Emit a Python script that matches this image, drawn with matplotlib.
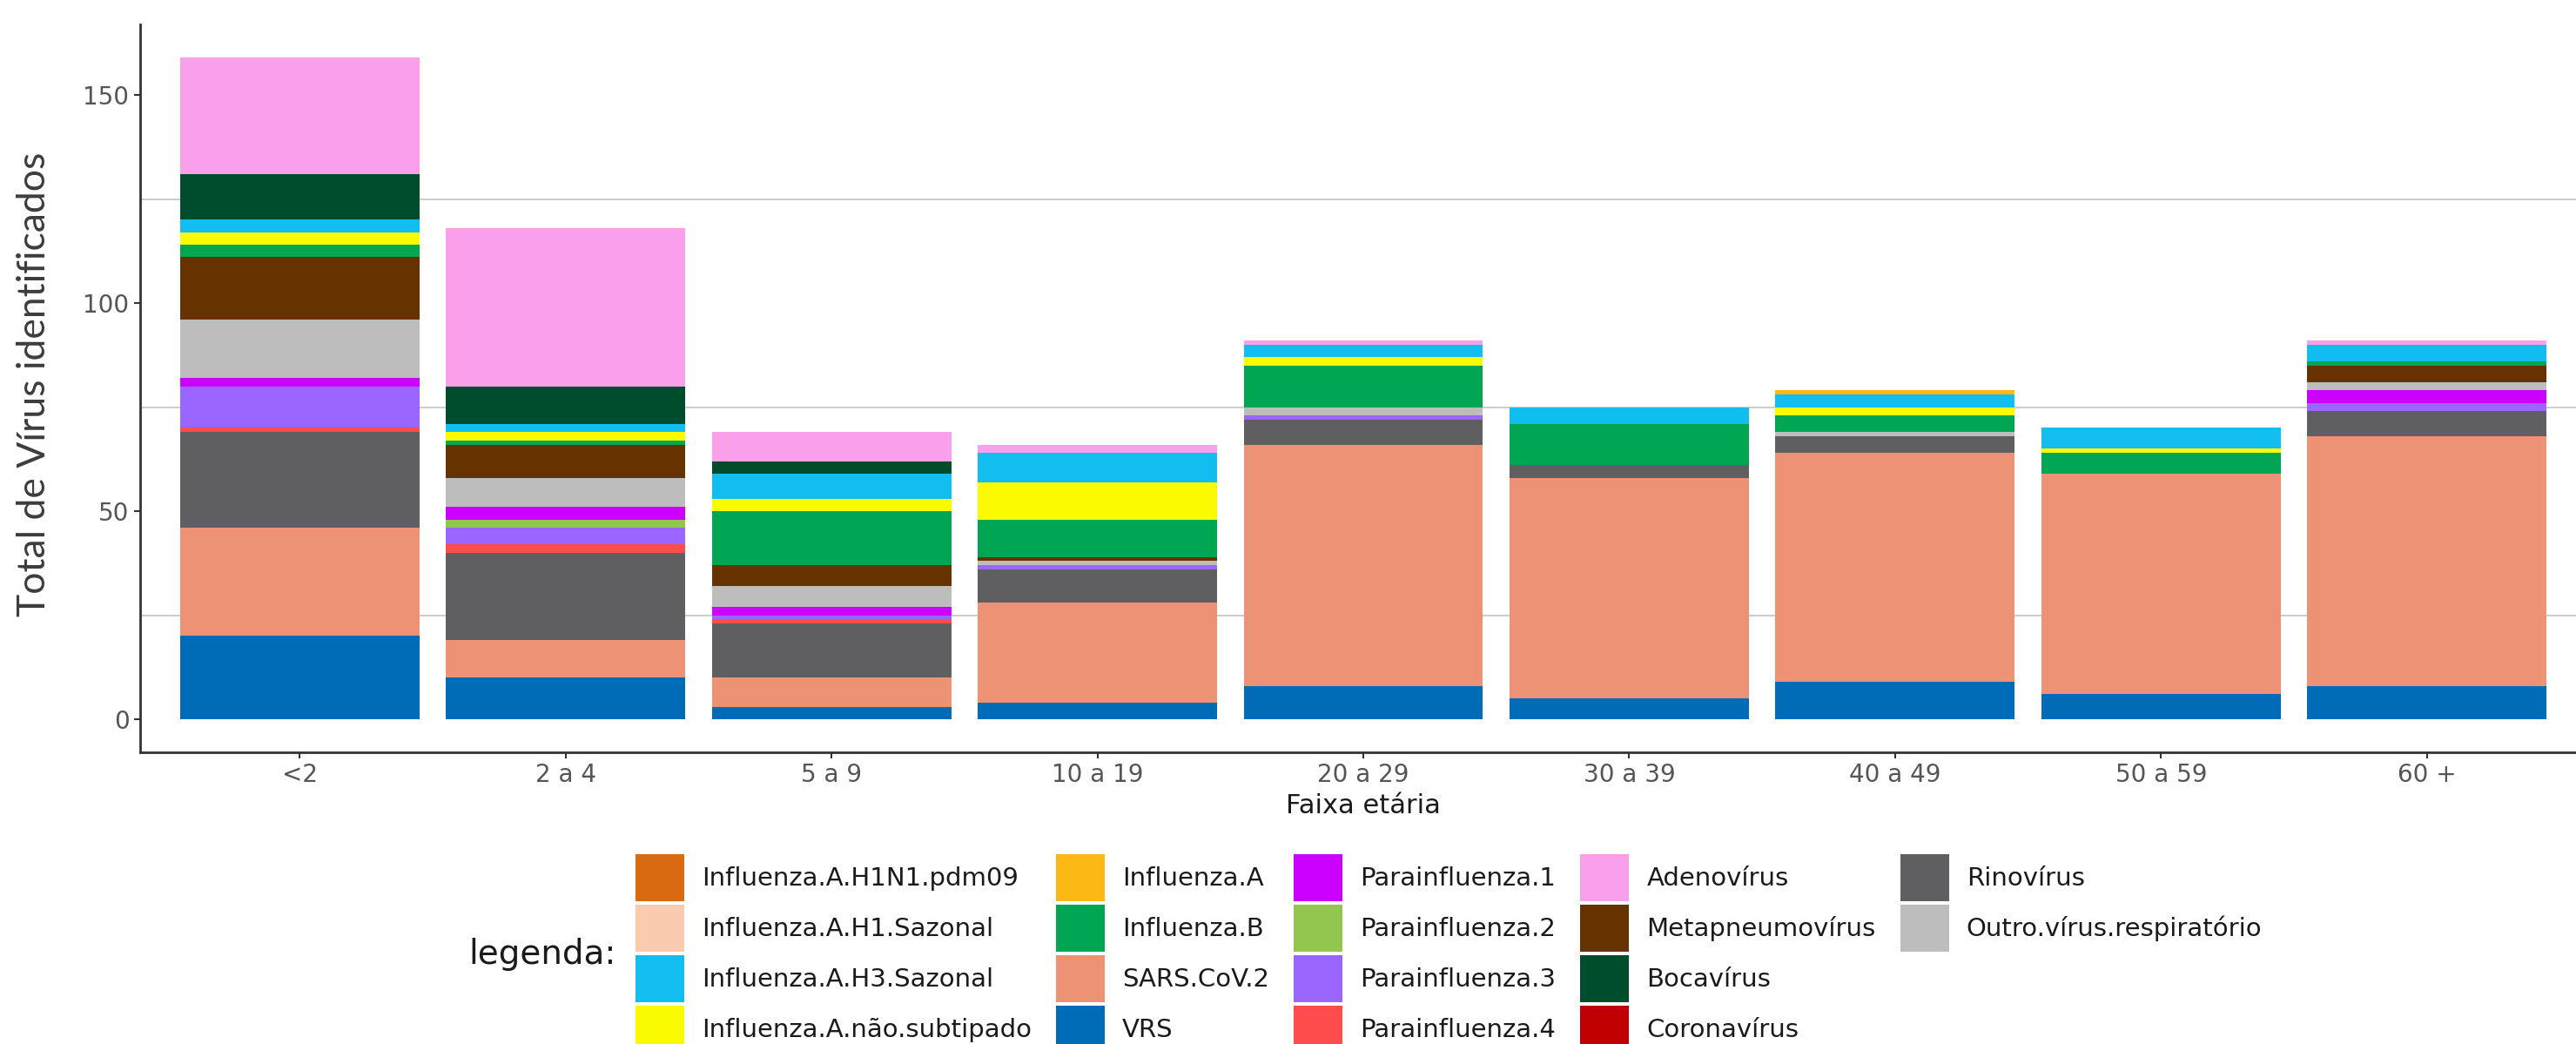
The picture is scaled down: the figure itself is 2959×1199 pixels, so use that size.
import matplotlib.pyplot as plt
import numpy as np
from matplotlib.patches import Patch

# faixas etarias (eixo x)
categorias = ["<2", "2 a 4", "5 a 9", "10 a 19", "20 a 29", "30 a 39", "40 a 49", "50 a 59", "60 +"]

# total de virus identificados por faixa etaria
vrs = [20, 10, 3, 4, 8, 5, 9, 6, 8]
sars_cov2 = [26, 9, 7, 24, 58, 53, 55, 53, 60]
rinovirus = [23, 21, 13, 8, 6, 3, 4, 0, 6]
parainfluenza4 = [1, 2, 1, 0, 0, 0, 0, 0, 0]
parainfluenza3 = [10, 4, 1, 1, 1, 0, 0, 0, 2]
parainfluenza2 = [0, 2, 0, 0, 0, 0, 0, 0, 0]
parainfluenza1 = [2, 3, 2, 0, 0, 0, 0, 0, 3]
outro_virus = [14, 7, 5, 1, 2, 0, 1, 0, 2]
metapneumovirus = [15, 8, 5, 1, 0, 0, 0, 0, 4]
influenza_b = [3, 1, 13, 9, 10, 10, 4, 5, 1]
influenza_a_nao_sub = [3, 2, 3, 9, 2, 0, 2, 1, 0]
influenza_a_h3 = [3, 2, 6, 7, 3, 4, 3, 5, 4]
influenza_a = [0, 0, 0, 0, 0, 0, 1, 0, 0]
bocavirus = [11, 9, 3, 0, 0, 0, 0, 0, 0]
adenovirus = [28, 38, 7, 2, 1, 0, 0, 0, 1]
influenza_h1n1 = [0, 0, 0, 0, 0, 0, 0, 0, 0]
influenza_h1 = [0, 0, 0, 0, 0, 0, 0, 0, 0]
coronavirus = [0, 0, 0, 0, 0, 0, 0, 0, 0]

dados = {
    "Influenza.A.H1N1.pdm09": influenza_h1n1,
    "Influenza.A.H1.Sazonal": influenza_h1,
    "Influenza.A.H3.Sazonal": influenza_a_h3,
    "Influenza.A.não.subtipado": influenza_a_nao_sub,
    "Influenza.A": influenza_a,
    "Influenza.B": influenza_b,
    "SARS.CoV.2": sars_cov2,
    "VRS": vrs,
    "Parainfluenza.1": parainfluenza1,
    "Parainfluenza.2": parainfluenza2,
    "Parainfluenza.3": parainfluenza3,
    "Parainfluenza.4": parainfluenza4,
    "Adenovírus": adenovirus,
    "Metapneumovírus": metapneumovirus,
    "Bocavírus": bocavirus,
    "Coronavírus": coronavirus,
    "Rinovírus": rinovirus,
    "Outro.vírus.respiratório": outro_virus,
}

cores = {
    "Influenza.A.H1N1.pdm09": "#D96A12",
    "Influenza.A.H1.Sazonal": "#FBCBAF",
    "Influenza.A.H3.Sazonal": "#12BEF0",
    "Influenza.A.não.subtipado": "#FAFA00",
    "Influenza.A": "#FDB913",
    "Influenza.B": "#00A651",
    "SARS.CoV.2": "#EE9276",
    "VRS": "#006BB6",
    "Parainfluenza.1": "#CC00FF",
    "Parainfluenza.2": "#92C64F",
    "Parainfluenza.3": "#9966FF",
    "Parainfluenza.4": "#FF4D4D",
    "Adenovírus": "#FAA0EA",
    "Metapneumovírus": "#663300",
    "Bocavírus": "#004D2E",
    "Coronavírus": "#C00000",
    "Rinovírus": "#5F5E60",
    "Outro.vírus.respiratório": "#BDBDBD",
}

# ordem de empilhamento (de baixo para cima)
ordem_pilha = ["VRS", "SARS.CoV.2", "Rinovírus", "Parainfluenza.4", "Parainfluenza.3",
               "Parainfluenza.2", "Parainfluenza.1", "Outro.vírus.respiratório",
               "Metapneumovírus", "Influenza.B", "Influenza.A.não.subtipado",
               "Influenza.A.H3.Sazonal", "Influenza.A", "Influenza.A.H1.Sazonal",
               "Influenza.A.H1N1.pdm09", "Coronavírus", "Bocavírus", "Adenovírus"]

W, H = 2959, 1199
fig = plt.figure(figsize=(W / 100, H / 100), dpi=100, facecolor='white')
ax = fig.add_axes([161 / W, 1 - 864 / H, (2971 - 161) / W, (864 - 28) / H])
ax.set_facecolor('white')

x = np.arange(len(categorias))
base = np.zeros(len(categorias))
for nome in ordem_pilha:
    vals = np.array(dados[nome], dtype=float)
    ax.bar(x, vals, 0.9, bottom=base, color=cores[nome], linewidth=0, zorder=2)
    base += vals

for g in [25, 75, 125]:
    ax.axhline(g, color='#C8C8C8', lw=1.3, zorder=1)

ax.set_xlim(-0.6, 8.6)
ax.set_ylim(-7.95, 166.95)
ax.set_yticks([0, 50, 100, 150])
ax.set_xticks(x)
ax.set_xticklabels(categorias)

for s in ['top', 'right']:
    ax.spines[s].set_visible(False)
for s in ['left', 'bottom']:
    ax.spines[s].set_color('#333333')
    ax.spines[s].set_linewidth(2)
ax.tick_params(axis='both', length=5, width=1.5, color='#333333',
               labelsize=20, labelcolor='#555555', pad=4)

ax.set_xlabel('Faixa etária', fontsize=22, color='#1A1A1A', labelpad=5)

fig.text(40 / W, 1 - 441 / H, 'Total de Vírus identificados', rotation=90,
         ha='center', va='center', family='Lato', fontsize=32, color='#3C3C3C')

# legenda (5 colunas, preenchida por coluna)
legenda_ordem = list(dados.keys())
handles = [Patch(facecolor=cores[n], edgecolor='none') for n in legenda_ordem]
handles += [Patch(facecolor='none', edgecolor='none')] * 2
labels = legenda_ordem + ['', '']
fig.legend(handles, labels, ncols=5, loc='upper left',
           bbox_to_anchor=(730 / W, 1 - 981 / H), bbox_transform=fig.transFigure,
           frameon=False, fontsize=21, labelcolor='#1A1A1A',
           handlelength=1.92, handleheight=2.46, handletextpad=0.69,
           columnspacing=0.96, labelspacing=0.143, borderpad=0, borderaxespad=0)
fig.text(538 / W, 1 - 1096 / H, 'legenda:', ha='left', va='center',
         fontsize=28, color='#1A1A1A')

fig.savefig('out.png', dpi=100, facecolor='white')
